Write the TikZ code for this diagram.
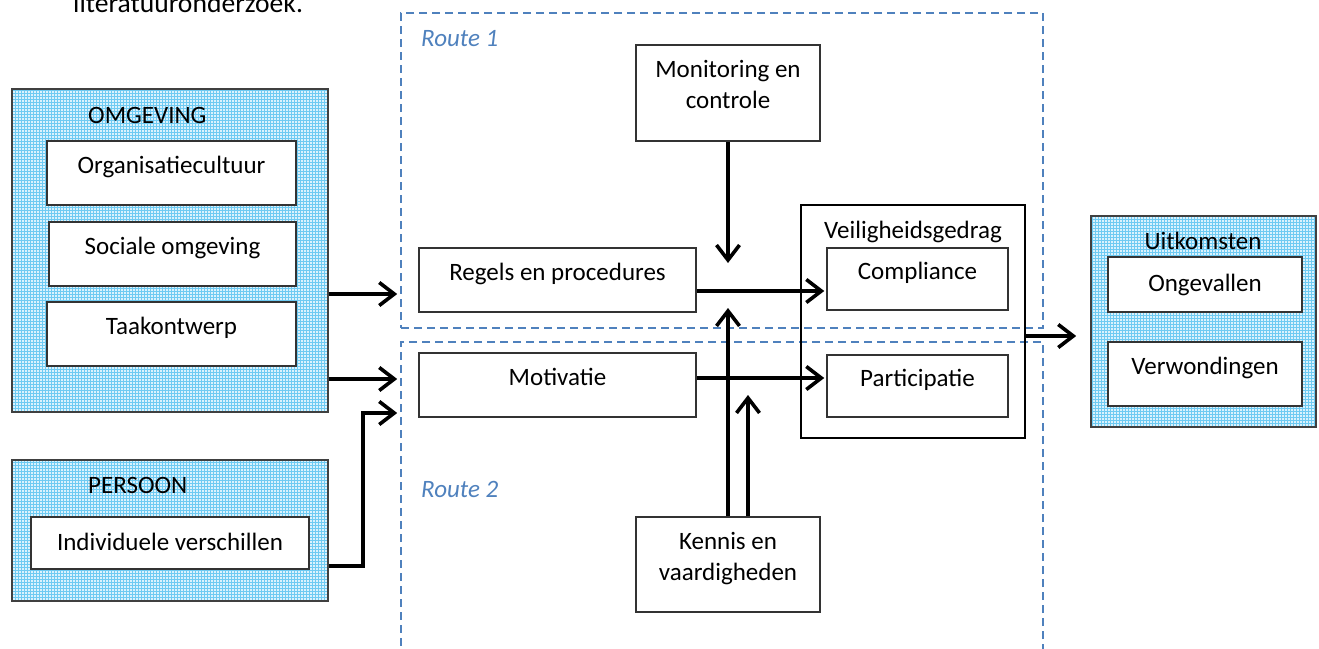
\documentclass[tikz,border=0pt]{standalone}
\usepackage{fontspec}
\setmainfont{Carlito}
\usetikzlibrary{arrows.meta,patterns,positioning}

\definecolor{routeblue}{RGB}{79,129,189}
\definecolor{hatchfill}{RGB}{218,242,253}
\definecolor{hatchline}{RGB}{110,202,242}

\tikzset{
    groupbox/.style={draw=black!75, line width=1.6pt, preaction={fill=hatchfill},
        pattern=grid, pattern color=hatchline},
    factor/.style={draw=black!80, line width=1.5pt, fill=white,
        text height=17pt, text depth=17pt},
    factortwo/.style={factor, align=center, text height=48pt, text depth=17pt},
    route/.style={draw=routeblue, line width=1.6pt, dash pattern=on 8pt off 5pt},
    routelabel/.style={anchor=base west, inner sep=0pt, text=routeblue,
        font=\fontsize{25}{31}\selectfont\itshape},
    flow/.style={line width=3.6pt, -{Straight Barb[length=15pt,width=23pt]}}
}

\begin{document}
\begin{tikzpicture}[x=1pt, y=-1pt, font=\fontsize{25}{31}\selectfont]
    \useasboundingbox (0,0) rectangle (1319,648);

    % text above the figure
    \node[anchor=base west, inner sep=0pt, font=\fontsize{27.6}{31}\selectfont] (caption) at (73,12) {literatuuronderzoek.};

    % Routes
    \node[route, minimum width=642pt, minimum height=315pt] (route1) at (722,170.5) {};
    \node[route, minimum width=642pt, minimum height=318pt] (route2) at (722,501) {};
    \node[routelabel] (route1label) at (421,46) {Route 1};
    \node[routelabel] (route2label) at (421,497) {Route 2};

    % Omgeving
    \node[groupbox, minimum width=316pt, minimum height=323pt] (omg) at (170,250.5) {};
    \node[anchor=base west, inner sep=0pt] (omglabel) at (88,123) {OMGEVING};
    \node[factor, minimum width=249pt, minimum height=64pt] (orgcult) at (171.5,173) {Organisatiecultuur};
    \node[factor, minimum width=247pt, minimum height=64pt] (sociaal) at (172.5,254) {Sociale omgeving};
    \node[factor, minimum width=249pt, minimum height=64pt] (taak) at (171.5,334) {Taakontwerp};

    % Persoon
    \node[groupbox, minimum width=316pt, minimum height=141pt] (persoon) at (170,530.5) {};
    \node[anchor=base west, inner sep=0pt] (persoonlabel) at (88,493) {PERSOON};
    \node[factor, minimum width=278pt, minimum height=52pt, text height=24pt, text depth=10pt] (indiv) at (170,543) {Individuele verschillen};

    % Route factors
    \node[factortwo, minimum width=184pt, minimum height=96pt] (monit) at (728,93) {Monitoring en\\controle};
    \node[factor, minimum width=277pt, minimum height=64pt] (regels) at (557.5,280) {Regels en procedures};
    \node[factor, minimum width=277pt, minimum height=64pt] (motiv) at (557.5,385) {Motivatie};
    \node[factortwo, minimum width=184pt, minimum height=95pt] (kennis) at (728,564.5) {Kennis en\\vaardigheden};

    % Veiligheidsgedrag
    \node[draw, line width=2.4pt, minimum width=224pt, minimum height=233pt] (veilig) at (913,321.5) {};
    \node[anchor=base, inner sep=0pt] (veiliglabel) at (913,238) {Veiligheidsgedrag};
    \node[factor, minimum width=181pt, minimum height=62pt] (compl) at (917.5,279) {Compliance};
    \node[factor, minimum width=181pt, minimum height=62pt] (partic) at (917.5,386) {Participatie};

    % Uitkomsten
    \node[groupbox, minimum width=225pt, minimum height=211pt] (uit) at (1203.5,321.5) {};
    \node[anchor=base, inner sep=0pt] (uitlabel) at (1203,249) {Uitkomsten};
    \node[factor, minimum width=194pt, minimum height=55pt, text height=24pt, text depth=10pt] (ongev) at (1205,284.5) {Ongevallen};
    \node[factor, minimum width=194pt, minimum height=64pt] (verw) at (1205,374) {Verwondingen};

    % connector points
    \coordinate (omgout1) at ([yshift=-43.5pt]omg.east);
    \coordinate (omgout2) at ([yshift=-128.5pt]omg.east);
    \coordinate (persout) at ([yshift=-35.5pt]persoon.east);
    \coordinate (knik) at (363,413);
    \coordinate (montip) at (728,263);
    \coordinate (kentip1) at (728,308);
    \coordinate (kentip2) at (748,395);

    \draw[flow, shorten >=3pt] (omgout1) -- (omgout1 -| route1.west);
    \draw[flow, shorten >=3pt] (omgout2) -- (omgout2 -| route2.west);
    \draw[flow, shorten >=3pt] (persout) -| (knik) -- (knik -| route2.west);
    \draw[flow, shorten >=2pt] ([yshift=-11pt]regels.east) -- ([yshift=-12pt]compl.west);
    \draw[flow, shorten >=2pt] ([yshift=7pt]motiv.east) -- ([yshift=8pt]partic.west);
    \draw[flow] (monit.south) -- (montip);
    \draw[flow] (kennis.north) -- (kentip1);
    \draw[flow] (kennis.north -| kentip2) -- (kentip2);
    \draw[flow, shorten >=14pt] ([yshift=-14.5pt]veilig.east) -- ([yshift=-14.5pt]uit.west);

\end{tikzpicture}
\end{document}
